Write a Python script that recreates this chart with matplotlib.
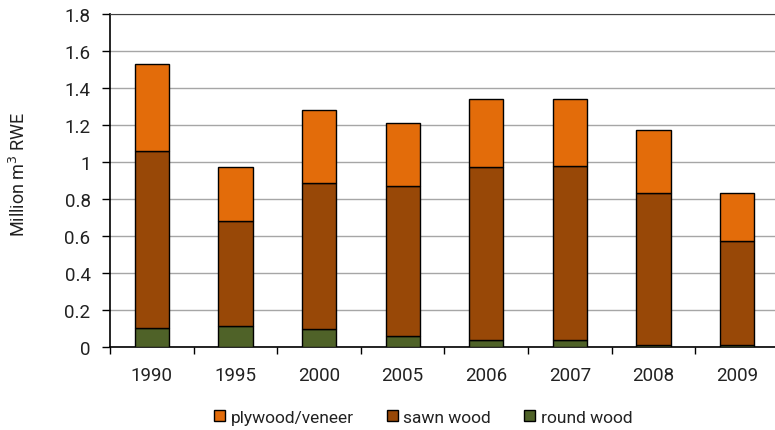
import matplotlib.pyplot as plt
import numpy as np

years = ['1990', '1995', '2000', '2005', '2006', '2007', '2008', '2009']
round_wood = [0.104, 0.113, 0.097, 0.061, 0.038, 0.038, 0.008, 0.008]
sawn_wood = [0.957, 0.568, 0.789, 0.811, 0.933, 0.940, 0.824, 0.567]
plywood = [0.469, 0.290, 0.393, 0.340, 0.369, 0.362, 0.343, 0.257]

plt.rcParams['font.family'] = ['Roboto', 'DejaVu Sans']

fig = plt.figure(figsize=(7.75, 4.31), dpi=100)
ax = fig.add_axes([0.142, 0.193, 0.863, 0.772])

x = np.arange(len(years))
w = 0.41
bottom2 = np.array(round_wood) + np.array(sawn_wood)
b_round = ax.bar(x, round_wood, w, color='#4F6228', edgecolor='black', linewidth=1, zorder=3)
b_sawn = ax.bar(x, sawn_wood, w, bottom=round_wood, color='#984807', edgecolor='black', linewidth=1, zorder=3)
b_ply = ax.bar(x, plywood, w, bottom=bottom2, color='#E36C0A', edgecolor='black', linewidth=1, zorder=3)

ax.set_xlim(-0.5, len(years) - 0.5)
ax.set_ylim(0, 1.8)
ax.set_yticks(np.arange(0, 1.81, 0.2))
ax.set_yticklabels(['0', '0.2', '0.4', '0.6', '0.8', '1', '1.2', '1.4', '1.6', '1.8'])
ax.yaxis.grid(True, color='#A6A6A6', linewidth=1, zorder=0)

# ticks between categories, labels in the middle
ax.set_xticks(np.arange(-0.5, len(years), 1))
ax.set_xticklabels([])
ax.set_xticks(x, minor=True)
ax.set_xticklabels(years, minor=True)
ax.tick_params(axis='x', which='major', length=5, width=1, direction='out')
ax.tick_params(axis='x', which='minor', length=0, pad=14, labelsize=13.5, labelcolor='#222222')
ax.tick_params(axis='y', length=6, width=1, direction='out', labelsize=13.5, pad=8,
               labelcolor='#222222')

ax.spines['right'].set_visible(False)
ax.spines['top'].set_color('#404040')
for s in ['left', 'bottom']:
    ax.spines[s].set_color('black')
    ax.spines[s].set_linewidth(1.2)

ax.set_ylabel('Million m$^3$ RWE', fontsize=13, color='#222222', va='center')
ax.yaxis.set_label_coords(-0.136, 0.522)

fig.legend([b_ply, b_sawn, b_round], ['plywood/veneer', 'sawn wood', 'round wood'],
           loc='center', bbox_to_anchor=(0.546, 0.03), ncol=3, frameon=False,
           fontsize=12.5, handlelength=0.65, handleheight=0.65, handletextpad=0.3,
           columnspacing=1.9, labelcolor='#222222')

fig.savefig('out.png', dpi=100)
